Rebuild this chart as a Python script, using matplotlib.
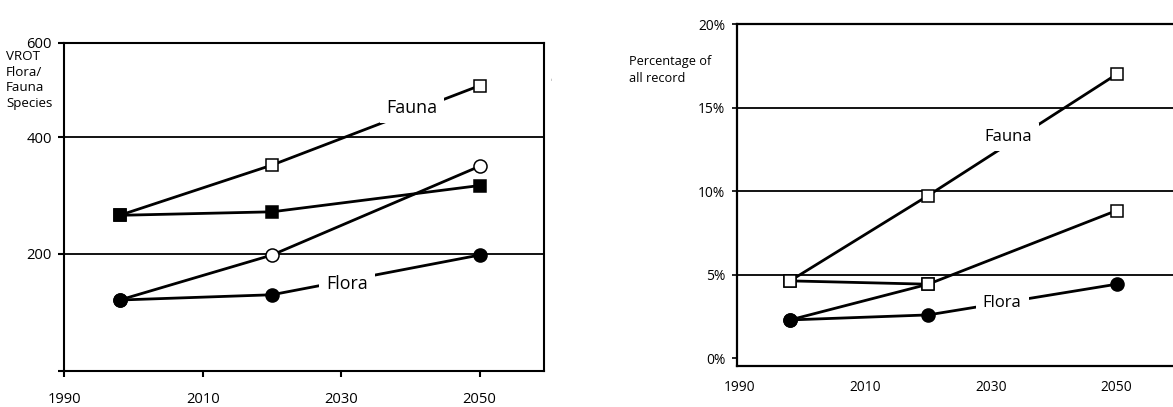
import matplotlib
matplotlib.use('Agg')
import matplotlib.pyplot as plt

plt.rcParams['font.family'] = ['Open Sans', 'DejaVu Sans']

# data
years = [1998, 2020, 2050]

# left panel: number of species
left_fauna_hi = [266, 352, 488]
left_fauna_lo = [266, 272, 317]
left_flora_hi = [121, 198, 350]
left_flora_lo = [121, 130, 198]

# right panel: percentage of all records
right_fauna_hi = [4.63, 9.74, 17.0]
right_fauna_lo = [4.63, 4.43]
right_flora_hi = [2.29, 4.43, 8.84]
right_flora_lo = [2.29, 2.59, 4.43]

left_yticks = [0, 200, 400, 561]
left_ylabels = ['', '200', '400', '600']
right_yticks = [0, 5, 10, 15, 20]
right_ylabels = ['0%', '5%', '10%', '15%', '20%']
xticks = [1990, 2010, 2030, 2050]

W, H = 1173, 407


def px(x0, y0, x1, y1):
    # pixel box -> figure fraction rect
    return [x0 / W, 1 - y1 / H, (x1 - x0) / W, (y1 - y0) / H]


def draw(ax, x, y, kinds):
    ax.plot(x[:len(y)], y, color='black', lw=2, zorder=2, solid_capstyle='butt')
    for xi, yi, k in zip(x, y, kinds):
        marker = 's' if k.lower() == 's' else 'o'
        face = 'black' if k.isupper() else 'white'
        size = 8.2 if marker == 's' else 9.4
        ax.plot([xi], [yi], marker=marker, ms=size, mfc=face, mec='black',
                mew=1.1, zorder=5, linestyle='none')


fig = plt.figure(figsize=(W / 100, H / 100), dpi=100)

# ---- left panel
ax1 = fig.add_axes(px(64.3, 43, 544, 370.7))
ax1.set_xlim(1990, 2059.3)
ax1.set_ylim(0, 561)
for y in [200, 400]:
    ax1.axhline(y, color='black', lw=1.3, zorder=1)
draw(ax1, years, left_fauna_hi, ['S', 's', 's'])
draw(ax1, years, left_fauna_lo, ['S', 'S', 'S'])
draw(ax1, years, left_flora_hi, ['C', 'c', 'c'])
draw(ax1, years, left_flora_lo, ['C', 'C', 'C'])
ax1.set_xticks(xticks)
ax1.set_xticklabels([str(t) for t in xticks])
ax1.set_yticks(left_yticks)
ax1.set_yticklabels(left_ylabels)
ax1.tick_params(axis='x', direction='out', length=4.5, width=1.5, pad=11, labelsize=10.6)
ax1.tick_params(axis='y', direction='out', length=4.5, width=1.5, pad=4.5, labelsize=10.6)
for s in ax1.spines.values():
    s.set_linewidth(1.5)
ax1.text(2040.2, 450, 'Fauna', fontsize=12.8, ha='center', va='center', zorder=3,
         bbox=dict(facecolor='white', edgecolor='none', pad=4.5))
ax1.text(2030.8, 149, 'Flora', fontsize=12.8, ha='center', va='center', zorder=3,
         bbox=dict(facecolor='white', edgecolor='none', pad=5))
fig.text(6 / W, 1 - 80 / H, 'VROT\nFlora/\nFauna\nSpecies', fontsize=9.6,
         ha='left', va='center', linespacing=1.25)

# ---- right panel
ax2 = fig.add_axes(px(736.7, 24.3, 1173, 366))
ax2.set_xlim(1989.5, 2059)
ax2.set_ylim(-0.47, 20)
for y in [5, 10, 15]:
    ax2.axhline(y, color='black', lw=1.3, zorder=1)
draw(ax2, years, right_fauna_hi, ['s', 's', 's'])
draw(ax2, years, right_fauna_lo, ['s', 's'])
draw(ax2, years, right_flora_hi, ['C', 's', 's'])
draw(ax2, years, right_flora_lo, ['C', 'C', 'C'])
ax2.set_xticks(xticks)
ax2.set_xticklabels([str(t) for t in xticks])
ax2.set_yticks(right_yticks)
ax2.set_yticklabels(right_ylabels)
ax2.tick_params(axis='x', length=0, pad=10, labelsize=9.9)
ax2.tick_params(axis='y', direction='out', length=3.5, width=1.2, pad=4.8, labelsize=9.9)
ax2.spines['right'].set_visible(False)
for s in ['left', 'bottom', 'top']:
    ax2.spines[s].set_linewidth(1.6)
ax2.text(2032.8, 13.25, 'Fauna', fontsize=12, ha='center', va='center', zorder=3,
         bbox=dict(facecolor='white', edgecolor='none', pad=4.5))
ax2.text(2031.8, 3.3, 'Flora', fontsize=12, ha='center', va='center', zorder=3,
         bbox=dict(facecolor='white', edgecolor='none', pad=5))
fig.text(629.3 / W, 1 - 70 / H, 'Percentage of\nall record', fontsize=9.2,
         ha='left', va='center', linespacing=1.3)

fig.text(551 / W, 1 - 80 / H, 'i', fontsize=3, color='#666666', ha='center', va='center')

fig.savefig('out.png', dpi=100)
